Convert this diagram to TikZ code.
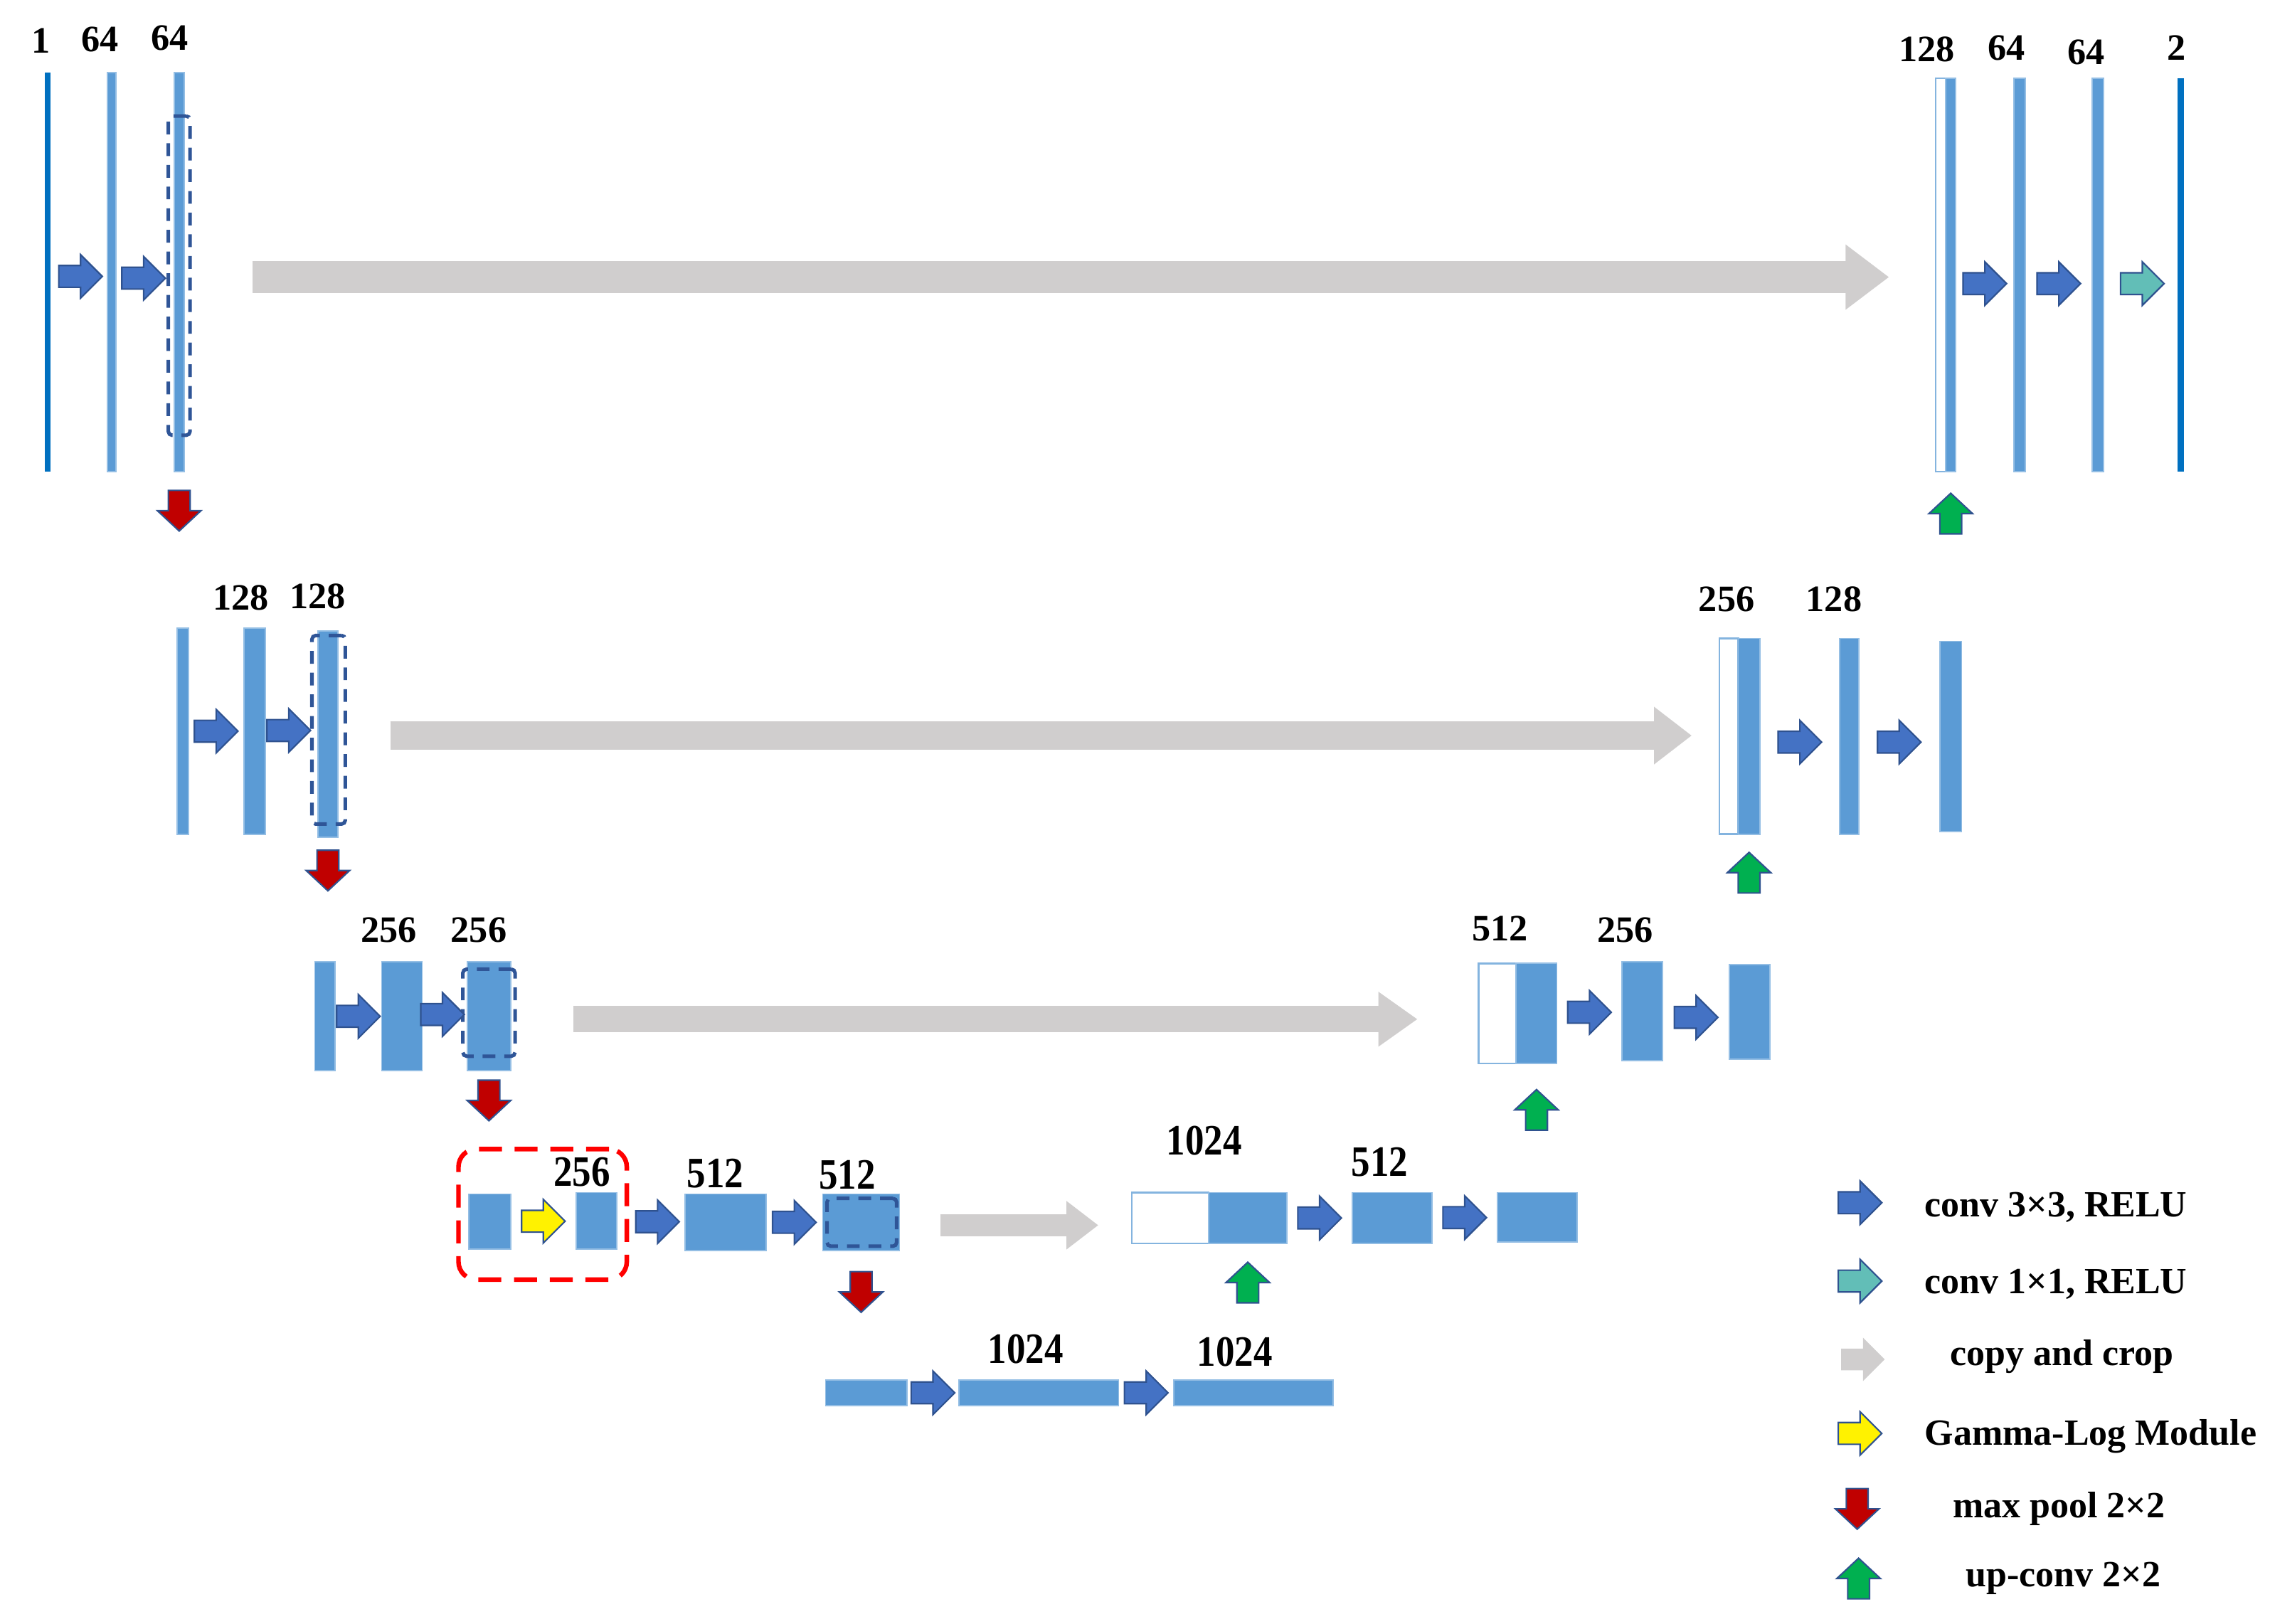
\documentclass[tikz,border=0pt]{standalone}
\usepackage{fontspec}
\setmainfont{Liberation Serif}
\usetikzlibrary{positioning,calc,arrows.meta}

\definecolor{barblue}{HTML}{5B9BD5}
\definecolor{iodark}{HTML}{0070C0}
\definecolor{convblue}{HTML}{4472C4}
\definecolor{edgeblue}{HTML}{2F528F}
\definecolor{convteal}{HTML}{62BEB7}
\definecolor{copygray}{HTML}{D0CECE}
\definecolor{poolred}{HTML}{C00000}
\definecolor{upgreen}{HTML}{00B050}
\definecolor{cropblue}{HTML}{2F5597}

\tikzset{
  fmap/.style 2 args={rectangle, anchor=north west, inner sep=0pt, outer sep=0pt,
    minimum width=#1*0.02cm, minimum height=#2*0.02cm},
  feat/.style={fill=barblue, draw=barblue!65!white, line width=0.5pt},
  io/.style={fill=iodark},
  skiphalf/.style={fill=white, draw=barblue!75!white, line width=0.7pt},
  crop/.style={draw=cropblue, line width=1.4pt, dash pattern=on 5pt off 3.5pt, rounded corners=1.5pt},
  glbox/.style={draw=red, line width=1.8pt, dash pattern=on 9pt off 5pt, rounded corners=7pt},
  num/.style={font=\fontsize{14.6}{16}\selectfont\bfseries, inner sep=0pt},
  bignum/.style={font=\fontsize{17}{19}\selectfont\bfseries, xscale=0.87, inner sep=0pt},
  legtext/.style={font=\fontsize{14.5}{17}\selectfont\bfseries, inner sep=0pt},
  conv/.style={fill=convblue, draw=edgeblue, line width=0.6pt},
  convone/.style={fill=convteal, draw=edgeblue, line width=0.6pt},
  gamma/.style={fill=yellow, draw=edgeblue, line width=0.6pt},
  pool/.style={fill=poolred, draw=edgeblue, line width=0.6pt},
  upconv/.style={fill=upgreen, draw=edgeblue, line width=0.6pt},
  copyleg/.style={fill=copygray},
  skipline/.style n args={3}{draw=copygray, line width=#1, -{Triangle[length=#2, width=#3]}},
  pics/rarr/.style={code={\path[#1] (-15,-7.5) -- (0,-7.5) -- (0,-15) -- (15,0) -- (0,15) -- (0,7.5) -- (-15,7.5) -- cycle;}},
  pics/darr/.style={code={\path[#1] (-7.5,-14) -- (7.5,-14) -- (7.5,0) -- (15,0) -- (0,14) -- (-15,0) -- (-7.5,0) -- cycle;}},
  pics/uarr/.style={code={\path[#1] (-7.5,14) -- (7.5,14) -- (7.5,0) -- (15,0) -- (0,-14) -- (-15,0) -- (-7.5,0) -- cycle;}},
}

\begin{document}
\begin{tikzpicture}[x=0.02cm, y=-0.02cm]
\useasboundingbox (0,0) rectangle (1568,1119);

% level 1
\node[fmap={4}{275}, io] (in) at (31,50) {};
\node[fmap={6}{275}, feat] (e1a) at (74,50) {};
\node[fmap={7}{275}, feat] (e1b) at (120,50) {};
\node[fmap={15}{220}, crop] (c1) at (116,80) {};
\node[fmap={7}{271}, skiphalf] (d1skip) at (1334,54) {};
\node[fmap={7}{271}, feat] (d1up) at (1341,54) {};
\node[fmap={8}{271}, feat] (d1a) at (1388,54) {};
\node[fmap={8}{271}, feat] (d1b) at (1442,54) {};
\node[fmap={4}{271}, io] (out) at (1501,54) {};

\node[num] (t_in) at (28,28) {1};
\node[num] (t_e1a) at (69,27) {64};
\node[num] (t_e1b) at (117,26) {64};
\node[num] (t_d1up) at (1328,34) {128};
\node[num] (t_d1a) at (1383,33) {64};
\node[num] (t_d1b) at (1438,36) {64};
\node[num] (t_out) at (1500,33) {2};

% level 2
\node[fmap={8}{142}, feat] (e2in) at (122,433) {};
\node[fmap={15}{142}, feat] (e2a) at (168,433) {};
\node[fmap={14}{142}, feat] (e2b) at (219,435) {};
\node[fmap={23}{130}, crop] (c2) at (215,438) {};
\node[fmap={13}{135}, skiphalf] (d2skip) at (1185,440) {};
\node[fmap={15}{135}, feat] (d2up) at (1198,440) {};
\node[fmap={13}{135}, feat] (d2a) at (1268,440) {};
\node[fmap={15}{131}, feat] (d2b) at (1337,442) {};

\node[num] (t_e2a) at (166,412) {128};
\node[num] (t_e2b) at (219,411) {128};
\node[num] (t_d2up) at (1190,413) {256};
\node[num] (t_d2a) at (1264,413) {128};

% level 3
\node[fmap={14}{75}, feat] (e3in) at (217,663) {};
\node[fmap={28}{75}, feat] (e3a) at (263,663) {};
\node[fmap={30}{75}, feat] (e3b) at (322,663) {};
\node[fmap={36}{60}, crop] (c3) at (319,668) {};
\node[fmap={26}{69}, skiphalf] (d3skip) at (1019,664) {};
\node[fmap={28}{69}, feat] (d3up) at (1045,664) {};
\node[fmap={28}{68}, feat] (d3a) at (1118,663) {};
\node[fmap={28}{65}, feat] (d3b) at (1192,665) {};

\node[num] (t_e3a) at (268,641) {256};
\node[num] (t_e3b) at (330,641) {256};
\node[num] (t_d3up) at (1034,640) {512};
\node[num] (t_d3a) at (1120,641) {256};

% level 4
\node[fmap={116}{90}, glbox] (gl) at (316,792) {};
\node[fmap={29}{38}, feat] (e4in) at (323,823) {};
\node[fmap={28}{39}, feat] (e4g) at (397,822) {};
\node[fmap={56}{39}, feat] (e4a) at (472,823) {};
\node[fmap={53}{39}, feat] (e4b) at (567,823) {};
\node[fmap={48}{33}, crop] (c4) at (570,826) {};
\node[fmap={53}{35}, skiphalf] (d4skip) at (780,822) {};
\node[fmap={54}{35}, feat] (d4up) at (833,822) {};
\node[fmap={55}{35}, feat] (d4a) at (932,822) {};
\node[fmap={55}{34}, feat] (d4b) at (1032,822) {};

\node[bignum] (t_e4g) at (401,808) {256};
\node[bignum] (t_e4a) at (493,809) {512};
\node[bignum] (t_e4b) at (584,810) {512};
\node[bignum] (t_d4up) at (830,786) {1024};
\node[bignum] (t_d4a) at (951,801) {512};

% bottom
\node[fmap={56}{18}, feat] (b5in) at (569,951) {};
\node[fmap={110}{18}, feat] (b5a) at (661,951) {};
\node[fmap={110}{18}, feat] (b5b) at (809,951) {};

\node[bignum] (t_b5a) at (707,930) {1024};
\node[bignum] (t_b5b) at (851,932) {1024};

% conv arrows
\pic at ($(in.east)!0.5!(e1a.west)+(1,3)$) {rarr=conv};
\pic at ($(e1a.east)!0.5!(c1.west)+(1,3)$) {rarr=conv};
\pic at ($(d1up.east)!0.5!(d1a.west)+(0,6)$) {rarr=conv};
\pic at ($(d1a.east)!0.5!(d1b.west)+(0,6)$) {rarr=conv};
\pic at ($(d1b.east)!0.5!(out.west)+(1,6)$) {rarr=convone};
\pic at ($(e2in.east)!0.5!(e2a.west)$) {rarr=conv};
\pic at ($(e2a.east)!0.5!(c2.west)$) {rarr=conv};
\pic at ($(d2up.east)!0.5!(d2a.west)+(0,4)$) {rarr=conv};
\pic at ($(d2a.east)!0.5!(d2b.west)+(0,4)$) {rarr=conv};
\pic at ($(e3in.east)!0.5!(e3a.west)$) {rarr=conv};
\pic at ($(e3a.east)!0.5!(c3.west)$) {rarr=conv};
\pic at ($(d3up.east)!0.5!(d3a.west)$) {rarr=conv};
\pic at ($(d3a.east)!0.5!(d3b.west)+(0,4)$) {rarr=conv};
\pic at ($(e4in.east)!0.5!(e4g.west)$) {rarr=gamma};
\pic at ($(e4g.east)!0.6!(e4a.west)$) {rarr=conv};
\pic at ($(e4a.east)!0.5!(e4b.west)$) {rarr=conv};
\pic at ($(d4up.east)!0.5!(d4a.west)$) {rarr=conv};
\pic at ($(d4a.east)!0.5!(d4b.west)$) {rarr=conv};
\pic at ($(b5in.east)!0.5!(b5a.west)$) {rarr=conv};
\pic at ($(b5a.east)!0.5!(b5b.west)$) {rarr=conv};

% max pool / up-conv
\pic at ([yshift=-0.54cm]e1b.south) {darr=pool};
\pic at ([yshift=-0.46cm]e2b.south) {darr=pool};
\pic at ([yshift=-0.41cm]e3b.south) {darr=pool};
\pic at ([yshift=-0.57cm]e4b.south) {darr=pool};
\pic at ([yshift=-0.58cm]d1up.south) {uarr=upconv};
\pic at ([yshift=-0.53cm]d2up.south) {uarr=upconv};
\pic at ([yshift=-0.64cm]d3up.south) {uarr=upconv};
\pic at ([yshift=-0.54cm]d4up.south) {uarr=upconv};

% copy and crop
\draw[skipline={0.44cm}{0.6cm}{0.86cm}] ($(c1.east)+(43,1)$) -- ($(c1.east -| d1skip.west)+(-32,1)$);
\draw[skipline={0.4cm}{0.52cm}{0.76cm}] ($(e2b.east)+(36,1)$) -- ($(e2b.east -| d2skip.west)+(-19,1)$);
\draw[skipline={0.36cm}{0.54cm}{0.72cm}] ($(e3b.east)+(43,2)$) -- ($(e3b.east -| d3skip.west)+(-42,2)$);
\draw[skipline={0.3cm}{0.44cm}{0.64cm}] ($(e4b.east)+(28,2)$) -- ($(e4b.east -| d4skip.west)+(-23,2)$);

% legend
\pic at (1282,829) {rarr=conv};
\node[legtext] (lg1) at (1417,832) {conv 3×3, RELU};
\pic at (1282,883) {rarr=convone};
\node[legtext] (lg2) at (1417,885) {conv 1×1, RELU};
\pic at (1284,937) {rarr=copyleg};
\node[legtext] (lg3) at (1421,935) {copy and crop};
\pic at (1282,988) {rarr=gamma};
\node[legtext] (lg4) at (1441,990) {Gamma-Log Module};
\pic at (1280,1040) {darr=pool};
\node[legtext] (lg5) at (1419,1040) {max pool 2×2};
\pic at (1281,1088) {uarr=upconv};
\node[legtext] (lg6) at (1422,1088) {up-conv 2×2};
\end{tikzpicture}
\end{document}
